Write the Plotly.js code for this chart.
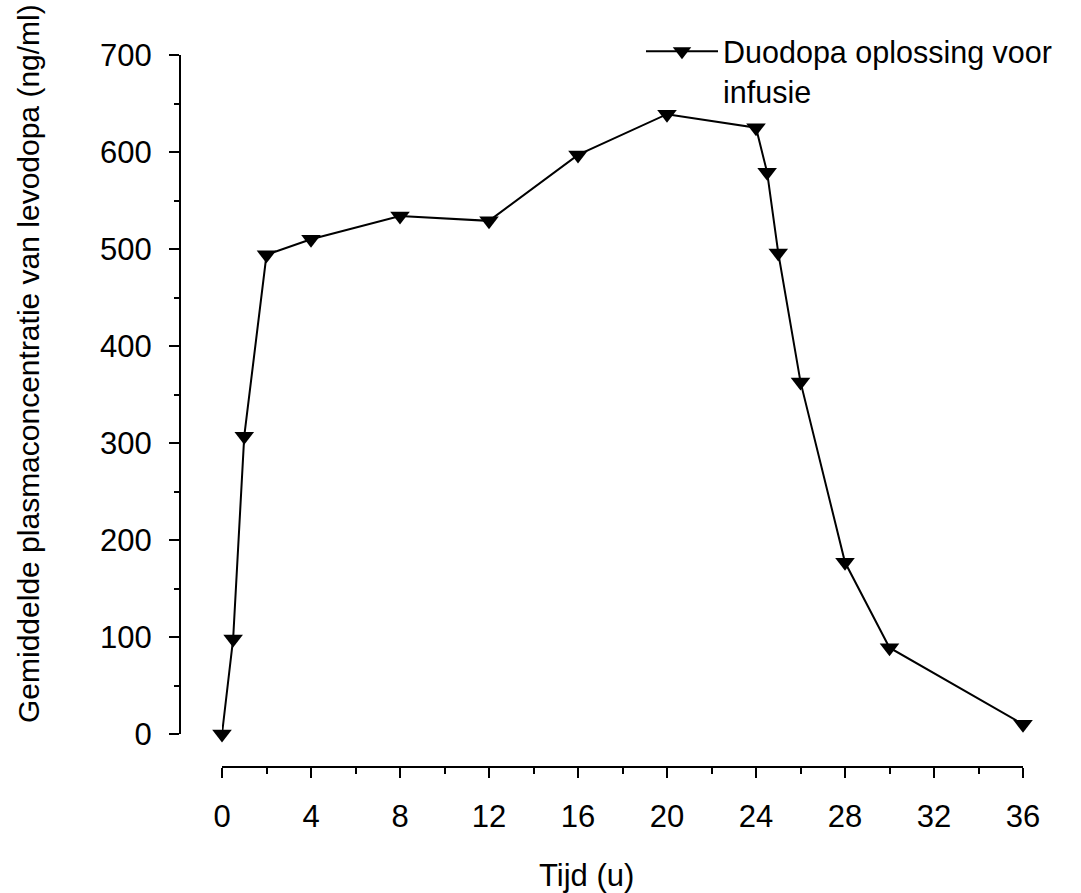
<!DOCTYPE html>
<html>
<head>
<meta charset="utf-8">
<script src="https://cdn.plot.ly/plotly-3.0.1.min.js"></script>
<style>html,body{margin:0;padding:0;background:#fff;}#chart{width:1081px;height:893px;}</style>
</head>
<body>
<div id="chart"></div>
<script>
const timeHours = [0, 0.5, 1, 2, 4, 8, 12, 16, 20, 24, 24.5, 25, 26, 28, 30, 36];
const levodopaConc = [0, 98, 307, 494, 510, 534, 529, 597, 639, 625, 579, 496, 363, 177, 89, 10];
const seriesName = 'Duodopa oplossing voor<br>infusie';
const xTickVals = [0, 4, 8, 12, 16, 20, 24, 28, 32, 36];
const yTickVals = [0, 100, 200, 300, 400, 500, 600, 700];
const xTitle = 'Tijd (u)';
const yTitle = 'Gemiddelde plasmaconcentratie van levodopa (ng/ml)';

const W = 1081, H = 893;
const ml = 180, mr = 58, mt = 55, mb = 126;
const pw = W - ml - mr, ph = H - mt - mb;
const font = 'Liberation Sans, Arial, sans-serif';

const trace = {
  x: timeHours, y: levodopaConc, name: seriesName,
  type: 'scatter', mode: 'lines+markers', cliponaxis: false,
  line: {color: '#000', width: 2},
  marker: {symbol: 'triangle-down', size: 17, color: '#000'},
  showlegend: true
};

const layout = {
  width: W, height: H,
  margin: {l: ml, r: mr, t: mt, b: mb},
  paper_bgcolor: '#fff', plot_bgcolor: '#fff',
  font: {family: font, size: 31, color: '#000'},
  showlegend: true,
  legend: {x: (641 - ml) / pw, y: 1 + 30 / ph, xanchor: 'left', yanchor: 'top', valign: 'top',
           bgcolor: 'rgba(0,0,0,0)', borderwidth: 0, itemwidth: 72, font: {size: 30.5}, tracegroupgap: 0},
  xaxis: {
    domain: [(222 - ml) / pw, 1], range: [0, 36], anchor: 'free', position: 0,
    showline: true, linecolor: '#000', linewidth: 2, showgrid: false, zeroline: false,
    tickmode: 'array', tickvals: xTickVals, ticktext: xTickVals.map(String),
    ticks: 'outside', ticklen: 10, tickwidth: 2, tickcolor: '#000',
    minor: {dtick: 2, tick0: 0, ticks: 'outside', ticklen: 6, tickwidth: 2, tickcolor: '#000', showgrid: false},
    ticklabelstandoff: 12,
    tickfont: {size: 31}
  },
  yaxis: {
    domain: [(767 - 734) / ph, 1], range: [0, 700], anchor: 'free', position: 0,
    showline: true, linecolor: '#000', linewidth: 2, showgrid: false, zeroline: false,
    tickmode: 'array', tickvals: yTickVals, ticktext: yTickVals.map(String),
    ticks: 'outside', ticklen: 10, tickwidth: 2, tickcolor: '#000',
    minor: {dtick: 50, tick0: 0, ticks: 'outside', ticklen: 5, tickwidth: 2, tickcolor: '#000', showgrid: false},
    ticklabelstandoff: 11,
    tickfont: {size: 31}
  },
  annotations: [{
    text: yTitle,
    xref: 'paper', yref: 'paper', x: (28 - ml) / pw, y: 1 - (364 - mt) / ph,
    xanchor: 'center', yanchor: 'middle', textangle: -90, showarrow: false,
    font: {size: 30, family: font, color: '#000'}
  }, {
    text: xTitle,
    xref: 'paper', yref: 'paper', x: (586 - ml) / pw, y: 1 - (875 - mt) / ph,
    xanchor: 'center', yanchor: 'middle', showarrow: false,
    font: {size: 31, family: font, color: '#000'}
  }]
};

Plotly.newPlot('chart', [trace], layout, {displayModeBar: false, staticPlot: true});
</script>
</body>
</html>
